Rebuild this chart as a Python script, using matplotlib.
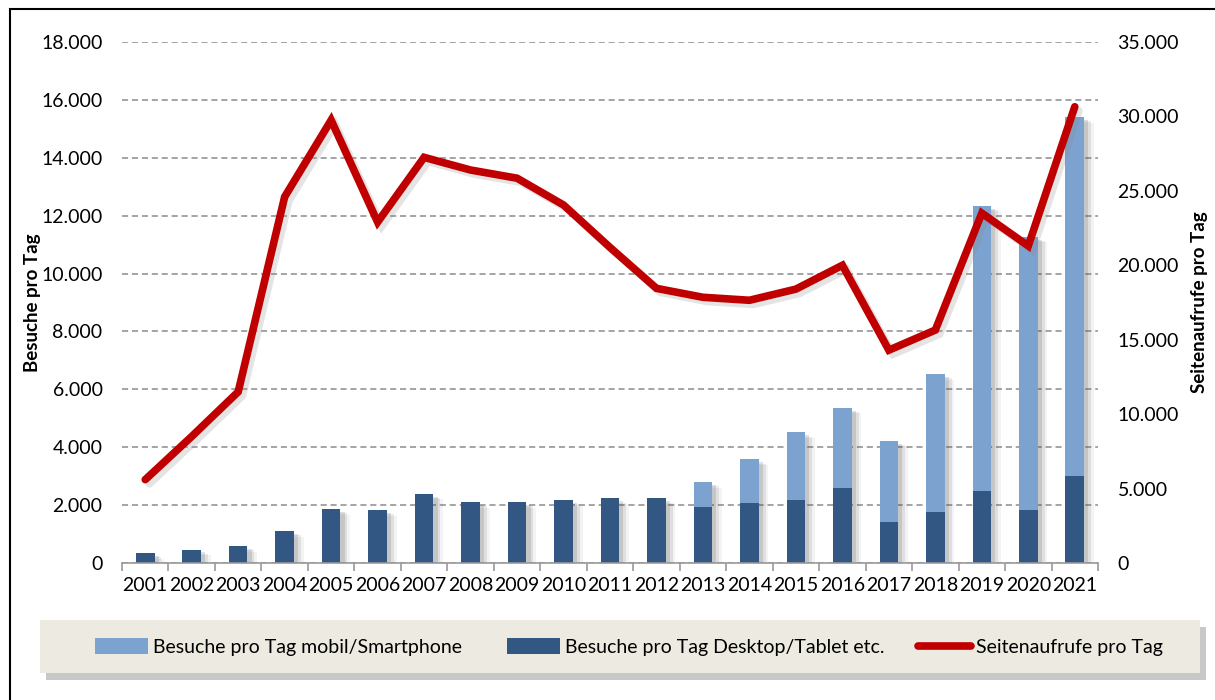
import matplotlib
matplotlib.use("Agg")
import matplotlib.pyplot as plt
import matplotlib.patheffects as pe
import matplotlib.transforms as mtransforms
from matplotlib.patches import Rectangle
from matplotlib.lines import Line2D
from matplotlib.ticker import FuncFormatter, MultipleLocator
import numpy as np

years = [str(y) for y in range(2001, 2022)]
desktop = [340, 460, 580, 1100, 1860, 1830, 2390, 2100, 2100, 2170, 2230, 2230,
           1950, 2060, 2180, 2600, 1420, 1760, 2500, 1840, 3010]
total_visits = [340, 460, 580, 1100, 1860, 1830, 2390, 2100, 2100, 2170, 2230, 2230,
                2790, 3580, 4510, 5360, 4220, 6530, 12340, 11270, 15400]
mobile = [t - d for t, d in zip(total_visits, desktop)]
pageviews = [5600, 8500, 11500, 24600, 29750, 22900, 27250, 26400, 25850, 24050,
             21200, 18450, 17850, 17650, 18400, 20000, 14300, 15650, 23500, 21300, 30650]

left_label = "Besuche pro Tag"
right_label = "Seitenaufrufe pro Tag"
leg_labels = ["Besuche pro Tag mobil/Smartphone", "Besuche pro Tag Desktop/Tablet etc.",
              "Seitenaufrufe pro Tag"]

dark = "#335783"
light = "#7ca2cf"
red = "#c00000"
font = ["Lato", "DejaVu Sans"]
plt.rcParams["font.family"] = font
FS = 14

W, H = 1215, 700
fig = plt.figure(figsize=(W / 100, H / 100), dpi=100)

# outer border
fig.add_artist(Rectangle((10 / W, -0.1), 1.2, 1.1 - 9 / H,
                         transform=fig.transFigure, fill=False, ec="black", lw=1.5))

ax = fig.add_axes([122 / W, 1 - 563 / H, (1098 - 122) / W, (563 - 42) / H])
x = np.arange(len(years))

# soft shadows behind the stacked bars
for off, a in [((3, -2), 0.18), ((5, -3), 0.12), ((7, -4), 0.07)]:
    tr = ax.transData + mtransforms.ScaledTranslation(off[0] / 72, off[1] / 72, fig.dpi_scale_trans)
    ax.bar(x, total_visits, width=0.4, color="#555555", alpha=a, transform=tr, zorder=2, lw=0)

ax.bar(x, desktop, width=0.4, color=dark, zorder=3)
ax.bar(x, mobile, bottom=desktop, width=0.4, color=light, zorder=3)

ax.set_xlim(-0.5, len(years) - 0.5)
ax.set_ylim(0, 18000)
ax.yaxis.set_major_locator(MultipleLocator(2000))
fmt = FuncFormatter(lambda v, p: f"{int(v):,}".replace(",", "."))
ax.yaxis.set_major_formatter(fmt)
ax.set_xticks(x)
ax.set_xticklabels(years)
ax.set_xticks(np.arange(-0.5, len(years), 1), minor=True)
ax.tick_params(axis="x", which="major", length=0, pad=10, labelsize=FS)
ax.tick_params(axis="x", which="minor", length=6, color="#999999", width=1.2)
ax.tick_params(axis="y", length=0, pad=14, labelsize=FS)
ax.grid(axis="y", ls=(0, (4, 2.5)), color="#8c8c8c", lw=1.1, zorder=0)
for s in ["left", "right", "top"]:
    ax.spines[s].set_visible(False)
ax.spines["bottom"].set_color("#999999")
ax.spines["bottom"].set_linewidth(1.2)
ax.spines["bottom"].set_zorder(4)
ax.set_ylabel(left_label, fontsize=13.5, fontweight="bold")
ax.yaxis.set_label_coords(-0.083, 0.5)

ax2 = ax.twinx()
ax2.set_ylim(0, 35000)
ax2.yaxis.set_major_locator(MultipleLocator(5000))
ax2.yaxis.set_major_formatter(fmt)
ax2.tick_params(axis="y", length=0, pad=14, labelsize=FS)
for s in ["left", "right", "top", "bottom"]:
    ax2.spines[s].set_visible(False)
ax2.plot(x, pageviews, color=red, lw=5.5, solid_capstyle="round", solid_joinstyle="miter", zorder=5,
         path_effects=[pe.SimpleLineShadow(offset=(3, -3), shadow_color="#888888", alpha=0.22),
                       pe.Normal()])
ax2.set_ylabel(right_label, fontsize=13.5, fontweight="bold", rotation=90)
ax2.yaxis.set_label_coords(1.095, 0.5)

# legend box
box = Rectangle((40 / W, 1 - 673 / H), (1200 - 40) / W, (673 - 620) / H,
                transform=fig.transFigure, fc="#edeae1", ec="none",
                path_effects=[pe.SimplePatchShadow(offset=(4, -5), shadow_rgbFace="#777777", alpha=0.4),
                              pe.Normal()])
fig.add_artist(box)
handles = [Rectangle((0, 0), 1, 1, fc=light), Rectangle((0, 0), 1, 1, fc=dark),
           Line2D([0], [0], color=red, lw=5.5, solid_capstyle="round")]
leg_x = [95, 507, 918]
for h, lab, lx in zip(handles, leg_labels, leg_x):
    fig.legend([h], [lab], loc="center left", bbox_to_anchor=(lx / W, 1 - 647 / H),
               frameon=False, fontsize=FS, handlelength=2.7, handleheight=0.9,
               handletextpad=0.3, borderpad=0, borderaxespad=0)

fig.savefig("out.png", dpi=100)
